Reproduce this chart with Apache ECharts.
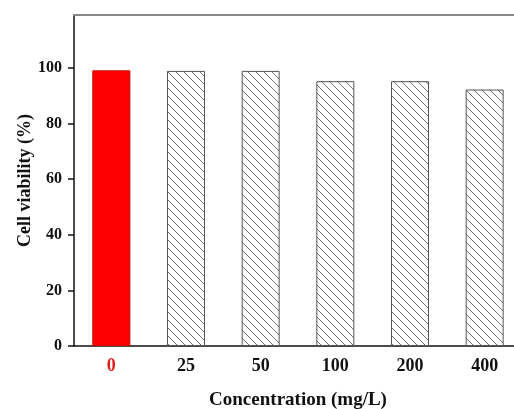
<!DOCTYPE html>
<html>
<head>
<meta charset="utf-8">
<script src="https://cdn.jsdelivr.net/npm/echarts@6/dist/echarts.min.js"></script>
<style>html,body{margin:0;padding:0;background:#fff;}#c{width:514px;height:409px;}</style>
</head>
<body>
<div id="c"></div>
<script>
var categories = ['0', '25', '50', '100', '200', '400'];
var viability = [99.1, 98.9, 98.9, 95.2, 95.2, 92.2];
var yTicks = [0, 20, 40, 60, 80, 100];

var FONT = "'Liberation Serif', 'Times New Roman', serif";
var Y_MAX = 119;
var TICK_MAX = yTicks[yTicks.length - 1];
var G_TOP = 15, G_H = 331;
// second grid spans only the ticked range so the y-axis has no extra tick at the top
var G2_H = G_H * TICK_MAX / Y_MAX;

function hatch() {
  var s = 8;
  var cv = document.createElement('canvas');
  cv.width = s; cv.height = s;
  var ctx = cv.getContext('2d');
  ctx.fillStyle = '#ffffff';
  ctx.fillRect(0, 0, s, s);
  ctx.strokeStyle = '#6f6f6f';
  ctx.lineWidth = 1;
  ctx.beginPath();
  ctx.moveTo(-2, -2); ctx.lineTo(s + 2, s + 2);
  ctx.moveTo(-2 - s, -2); ctx.lineTo(2, s + 2);
  ctx.moveTo(s - 2, -2); ctx.lineTo(2 * s + 2, s + 2);
  ctx.stroke();
  return cv;
}
var pattern = { image: hatch(), repeat: 'repeat' };

var chart = echarts.init(document.getElementById('c'), null, { renderer: 'canvas' });
chart.setOption({
  animation: false,
  backgroundColor: '#fff',
  grid: [
    { left: 74, top: G_TOP, width: 448, height: G_H, outerBoundsMode: 'none', containLabel: false },
    { left: 74, top: G_TOP + G_H - G2_H, width: 448, height: G2_H, outerBoundsMode: 'none', containLabel: false }
  ],
  xAxis: [{
    type: 'category',
    gridIndex: 0,
    data: categories,
    name: 'Concentration (mg/L)',
    nameLocation: 'middle',
    nameGap: 45,
    nameTextStyle: { fontFamily: FONT, fontWeight: 'bold', fontSize: 19, color: '#111' },
    axisLine: { lineStyle: { color: '#111', width: 1.5 } },
    axisTick: { alignWithLabel: true, length: 6, lineStyle: { color: '#111', width: 1.5 } },
    axisLabel: {
      margin: 11,
      fontFamily: FONT, fontWeight: 'bold', fontSize: 18,
      color: function (v) { return v === '0' ? '#e02020' : '#111'; }
    },
    splitLine: { show: false }
  }, {
    type: 'category',
    gridIndex: 0,
    position: 'top',
    data: categories,
    axisLine: { lineStyle: { color: '#888', width: 2 } },
    axisTick: { show: false },
    axisLabel: { show: false }
  }, {
    type: 'category',
    gridIndex: 1,
    data: categories,
    show: false
  }],
  yAxis: [{
    type: 'value',
    gridIndex: 0,
    min: 0,
    max: Y_MAX,
    interval: 20,
    name: 'Cell viability (%)',
    nameLocation: 'middle',
    nameGap: 40,
    nameTextStyle: { fontFamily: FONT, fontWeight: 'bold', fontSize: 18, color: '#111' },
    axisLine: { show: true, lineStyle: { color: '#111', width: 1.5 } },
    axisTick: { show: false },
    axisLabel: { show: false },
    splitLine: { show: false }
  }, {
    type: 'value',
    gridIndex: 1,
    min: 0,
    max: TICK_MAX,
    interval: 20,
    axisLine: { show: false },
    axisTick: { show: true, length: 6, lineStyle: { color: '#111', width: 1.5 } },
    axisLabel: {
      margin: 12,
      fontFamily: FONT, fontWeight: 'bold', fontSize: 16, color: '#111'
    },
    splitLine: { show: false }
  }],
  series: [{
    type: 'bar',
    xAxisIndex: 0,
    yAxisIndex: 0,
    barWidth: 38,
    data: viability.map(function (v, i) {
      return i === 0
        ? { value: v, itemStyle: { color: '#ff0000', borderColor: '#cc0000', borderWidth: 1 } }
        : { value: v, itemStyle: { color: pattern, borderColor: '#555', borderWidth: 1 } };
    })
  }]
});
</script>
</body>
</html>
